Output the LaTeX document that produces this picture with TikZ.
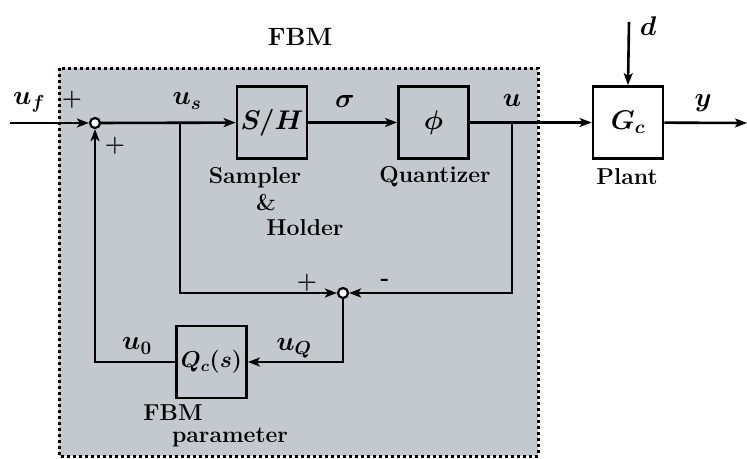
\documentclass[tikz,border=0pt]{standalone}
\usepackage{fix-cm}
\usepackage{bm}
\usetikzlibrary{arrows.meta}
\definecolor{fbmgray}{RGB}{196,201,208}
\begin{document}
\begin{tikzpicture}[x=1pt,y=-1pt,
  line width=2.6pt,
  arr/.style={-{Stealth[length=12pt,width=9pt,inset=3pt]}},
  blk/.style={draw,fill=white,minimum width=70pt,minimum height=72pt,inner sep=0pt,line width=2.8pt},
  sblk/.style={blk,fill=none},
  sumc/.style={draw,circle,fill=white,minimum size=10pt,inner sep=0pt,line width=2.2pt},
  txt/.style={font=\fontsize{23}{25}\selectfont\bfseries\boldmath,inner sep=0pt},
  mtxt/.style={font=\fontsize{27}{29}\selectfont\bfseries\boldmath,inner sep=0pt},
  boxtxt/.style={font=\fontsize{27}{29}\selectfont\boldmath}
]
\useasboundingbox (0,0) rectangle (747,458);
% FBM shaded region
\fill[fbmgray] (59,68) rectangle (538,456);
\draw[line width=3pt,dash pattern=on 3pt off 3pt] (59,68) rectangle (538,456);
\node[font=\fontsize{25}{27}\selectfont\bfseries,inner sep=0pt] (fbm) at (300,37) {FBM};

% nodes
\node[sumc] (s1) at (95,123) {};
\node[sblk] (sh) at (272,122.5) {};
\node[boxtxt] at (sh) {$S/H$};
\node[sblk] (q) at (433.5,122.5) {};
\node[boxtxt] at (q) {$\phi$};
\node[blk] (g) at (628,122.5) {};
\node[boxtxt] at (g) {$G_c$};
\node[sumc] (s2) at (343,293) {};
\node[sblk] (qc) at (211.5,362) {};
\node[font=\fontsize{23}{25}\selectfont\boldmath] at (qc) {$Q_c(s)$};

\coordinate (in) at (10,123);
\coordinate (b1) at (180,123);
\coordinate (b2) at (512,123);
\coordinate (dt) at (629,22);
\coordinate (out) at (747,123);

% connectors
\draw[arr] (in) -- (s1);
\draw[arr] (s1) -- (sh);
\draw[arr] (sh) -- (q);
\draw[arr] (q) -- (g);
\draw[arr] (g) -- (out);
\draw[arr] (dt) -- (g.north);
\draw[arr] (b1) |- (s2);
\draw[arr] (b2) |- (s2);
\draw[arr] (s2) |- (qc);
\draw[arr] (qc) -| (s1);

% labels
\node[mtxt] (luf) at (29,102) {$u_f$};
\node[txt] (lp1) at (72,100) {$+$};
\node[txt] (lp2) at (115,146) {$+$};
\node[mtxt] (lus) at (187,101) {$u_s$};
\node[mtxt] (lsig) at (345,101) {$\sigma$};
\node[mtxt] (lu) at (512,100) {$u$};
\node[mtxt] (ly) at (703,103) {$y$};
\node[mtxt] (ld) at (648,26) {$d$};
\node[txt] (lsam) at (255,178) {Sampler};
\node[txt] (lamp) at (266,203) {\&};
\node[txt] (lhol) at (305,228) {Holder};
\node[txt] (lqua) at (435,177) {Quantizer};
\node[txt] (lpla) at (627,177) {Plant};
\node[txt] (lp3) at (307,283) {$+$};
\node[txt] (lm) at (385,282) {-};
\node[mtxt] (lu0) at (137,346) {$u_0$};
\node[mtxt] (luq) at (294,348) {$u_Q$};
\node[txt] (lfbm) at (173,413) {FBM};
\node[txt] (lpar) at (230,437) {parameter};
\end{tikzpicture}
\end{document}
